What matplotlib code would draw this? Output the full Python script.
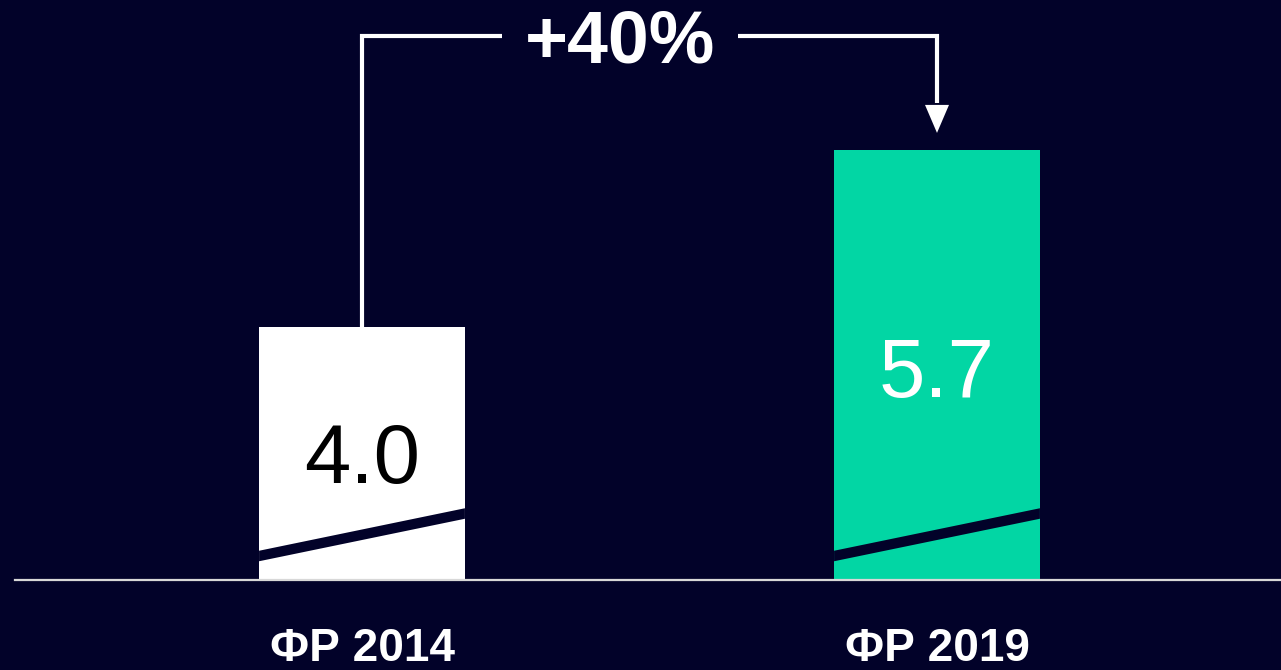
import matplotlib.pyplot as plt
import numpy as np

# data
categories = ["ФР 2014", "ФР 2019"]
values = np.array([4.0, 5.7])
value_labels = ["4.0", "5.7"]
change_label = "+40%"

bg = "#020229"
bar_colors = ["#ffffff", "#02d6a4"]
text_colors = ["#000000", "#ffffff"]

plt.rcParams['font.family'] = ['Liberation Sans', 'DejaVu Sans']

# axis is truncated (hence the break marks on the bars)
y_base = 1.57
px = 104.12  # pixels per unit
x = np.arange(len(categories))
width = 0.358

fig = plt.figure(figsize=(12.81, 6.70), dpi=100, facecolor=bg)
ax = fig.add_axes([0, 0, 1, 1])
ax.axis('off')
ax.set_xlim(-362 / 575, (1281 - 362) / 575)
ax.set_ylim(y_base - 90 / px, y_base - 90 / px + 670 / px)

ax.bar(x, values - y_base, bottom=y_base, width=width, color=bar_colors, zorder=2)
ax.axhline(y_base, xmin=15 / 1281, xmax=1, color="#d8d8d8", lw=1.6, zorder=3)

# break marks
lo, hi, th = 24 / px, 66.5 / px, 10.5 / px
for xi in x:
    xl, xr = xi - width / 2, xi + width / 2
    ax.fill([xl, xr, xr, xl],
            [y_base + lo - th / 2, y_base + hi - th / 2, y_base + hi + th / 2, y_base + lo + th / 2],
            color=bg, lw=0, zorder=2.5)

# value labels inside bars
label_y = [2.502, 3.328]
for xi, lab, c, ly in zip(x, value_labels, text_colors, label_y):
    ax.text(xi, ly, lab, ha='center', va='baseline', fontsize=60, color=c, zorder=4)

# category labels
for xi, cat in zip(x, categories):
    ax.text(xi, y_base - 90 / px + 9 / px, cat, ha='center', va='baseline',
            fontsize=33, fontweight='bold', color='white')

# bracket with growth label
bracket_y = 6.79
tip_y = 5.864
head_len = 28 / px
head_half = 12 / 575
ax.plot([0, 0, 0.2435], [values[0], bracket_y, bracket_y], color='white', lw=3,
        solid_joinstyle='miter', solid_capstyle='butt', zorder=3)
ax.plot([0.654, 1, 1], [bracket_y, bracket_y, tip_y + head_len + 0.02], color='white', lw=3,
        solid_joinstyle='miter', solid_capstyle='butt', zorder=3)
ax.fill([1 - head_half, 1 + head_half, 1], [tip_y + head_len, tip_y + head_len, tip_y],
        color='white', lw=0, zorder=3)
ax.text(0.449, 6.536, change_label, ha='center', va='baseline', fontsize=53,
        fontweight='bold', color='white')

fig.savefig("out.png", dpi=100, facecolor=bg)
